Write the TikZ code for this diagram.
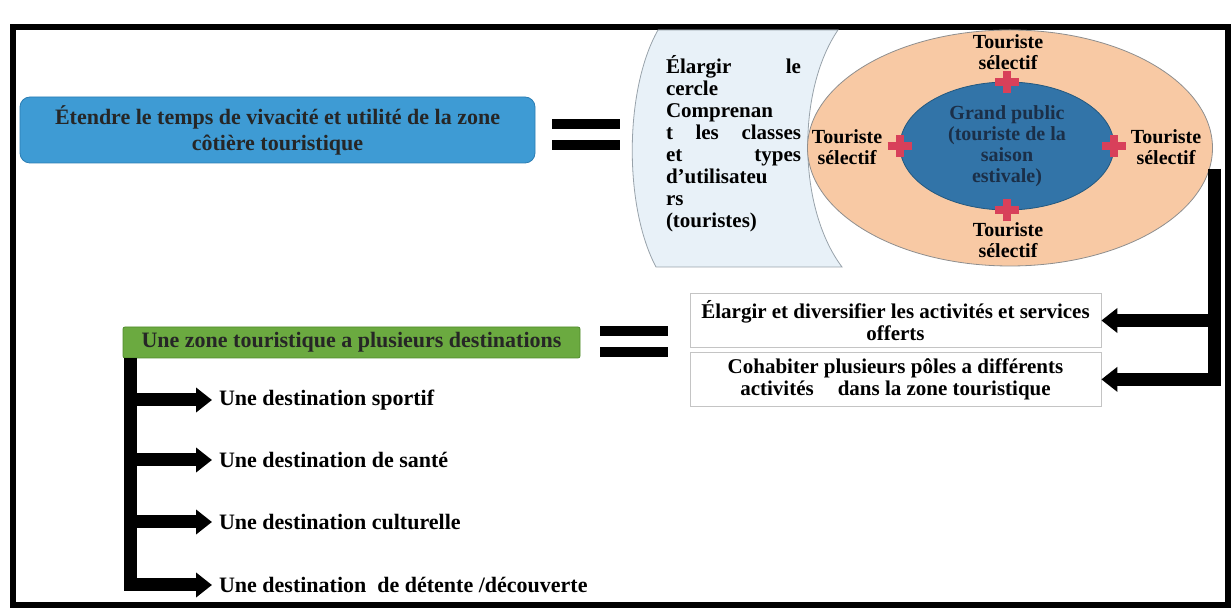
\documentclass[tikz,border=0pt]{standalone}
\usepackage{fontspec}
\setmainfont{Liberation Serif}
\usetikzlibrary{arrows.meta,shapes.geometric,positioning}

\definecolor{skyblue}{HTML}{3E9BD4}
\definecolor{skyedge}{HTML}{2B7DB3}
\definecolor{leafgreen}{HTML}{6BAA40}
\definecolor{leafedge}{HTML}{4F8A2C}
\definecolor{scrollfill}{HTML}{E8F1F8}
\definecolor{scrolledge}{HTML}{98A2AA}
\definecolor{peach}{HTML}{F8C9A4}
\definecolor{ringedge}{HTML}{8E8E8E}
\definecolor{coreblue}{HTML}{3274A8}
\definecolor{coreedge}{HTML}{23587F}
\definecolor{corefont}{HTML}{1B2F48}
\definecolor{crossred}{HTML}{D8405A}
\definecolor{boxedge}{HTML}{C4C4C4}

\begin{document}
\begin{tikzpicture}[x=0.5pt,y=-0.5pt,font=\bfseries,
    fat/.style={line width=6.5pt,-{Triangle[length=8pt,width=12pt]}},
    bar/.style={line width=6.5pt},
    goal/.style={rectangle,rounded corners=5pt,fill=skyblue,draw=skyedge,
                 minimum width=257.5pt,minimum height=33pt,align=center,
                 text=black!85,font=\fontsize{11}{13}\selectfont\bfseries},
    zone/.style={rectangle,rounded corners=1pt,fill=leafgreen,draw=leafedge,
                 minimum width=228.5pt,minimum height=15.5pt,inner sep=1pt,
                 text=black!85,font=\fontsize{11}{13}\selectfont\bfseries},
    offer/.style={rectangle,draw=boxedge,fill=white,minimum width=205.5pt,
                  minimum height=25.5pt,align=center,inner xsep=1pt,
                  font=\fontsize{10.5}{11}\selectfont\bfseries},
    dest/.style={anchor=west,font=\fontsize{11}{13}\selectfont\bfseries},
    tour/.style={align=center,inner sep=0pt,
                 font=\fontsize{10}{10.5}\selectfont\bfseries},
    cross/.style={line width=4pt,draw=crossred}]

  \useasboundingbox (0,0) rectangle (1232,608);
  \draw[line width=3pt] (13,27) rectangle (1228,605);

  % first row
  \node[goal] (goal) at (277.5,130)
    {Étendre le temps de vivacité et utilité de la zone\\côtière touristique};
  \foreach \y in {119,140}
    \fill (552,\y) rectangle (620,{\y+10});

  \draw[draw=scrolledge,fill=scrollfill] (658,30) -- (838,30)
    .. controls (797,90) and (797,207) .. (842,267) -- (656,267)
    .. controls (624,207) and (624,90) .. (658,30) -- cycle;
  \node[text width=67.5pt,align=left,inner sep=0pt,
        font=\fontsize{10.5}{11}\selectfont\bfseries] (aim) at (733.5,144)
    {Élargir\hfill le\\ cercle\\ Comprenan\\ t\hfill les\hfill classes\\
     et\hfill types\\ d'utilisateu\\ rs\\ (touristes)};

  \node[ellipse,fill=peach,draw=ringedge,minimum width=202.5pt,
        minimum height=118pt] (outer) at (1010,148) {};
  \node[ellipse,fill=coreblue,draw=coreedge,minimum width=107pt,
        minimum height=64pt,inner sep=0pt,align=center,text=corefont,
        font=\fontsize{10}{10.5}\selectfont\bfseries] (inner) at (1007,146)
    {Grand public\\(touriste de la\\saison\\estivale)};
  \foreach \a in {north,south,east,west}
    \draw[cross] ([xshift=-6pt]inner.\a) -- ([xshift=6pt]inner.\a)
                 ([yshift=-5.5pt]inner.\a) -- ([yshift=5.5pt]inner.\a);

  \node[tour] (tn) at (1008,52) {Touriste\\sélectif};
  \node[tour] (tw) at (847,147) {Touriste\\sélectif};
  \node[tour] (te) at (1166,147) {Touriste\\sélectif};
  \node[tour] (ts) at (1008,240) {Touriste\\sélectif};

  % second row
  \node[zone] (zones) at (351.5,342.5) {Une zone touristique a plusieurs destinations};
  \foreach \y in {326,347}
    \fill (600,\y) rectangle (668,{\y+10});

  \node[offer] (act) at (895.5,320.5)
    {Élargir et diversifier les activités et services\\offerts};
  \node[offer,below=2pt of act] (poles)
    {Cohabiter plusieurs pôles a différents\\activités\hspace{12pt}dans la zone touristique};

  \coordinate (rtop) at (1214,169);
  \draw[fat] (rtop) |- (poles.east);
  \draw[fat] (rtop |- act.east) -- (act.east);

  % destinations
  \node[dest] (d1) at (212,400) {Une destination sportif};
  \node[dest] (d2) at (212,460) {Une destination de santé};
  \node[dest] (d3) at (212,522) {Une destination culturelle};
  \node[dest] (d4) at (212,585) {Une destination\ \ de détente /découverte};

  \coordinate (trunk) at ([xshift=3.75pt]zones.south west);
  \draw[fat] (trunk) |- (d4.west);
  \foreach \i in {1,2,3}
    \draw[fat] (trunk |- d\i.west) -- (d\i.west);
\end{tikzpicture}
\end{document}
